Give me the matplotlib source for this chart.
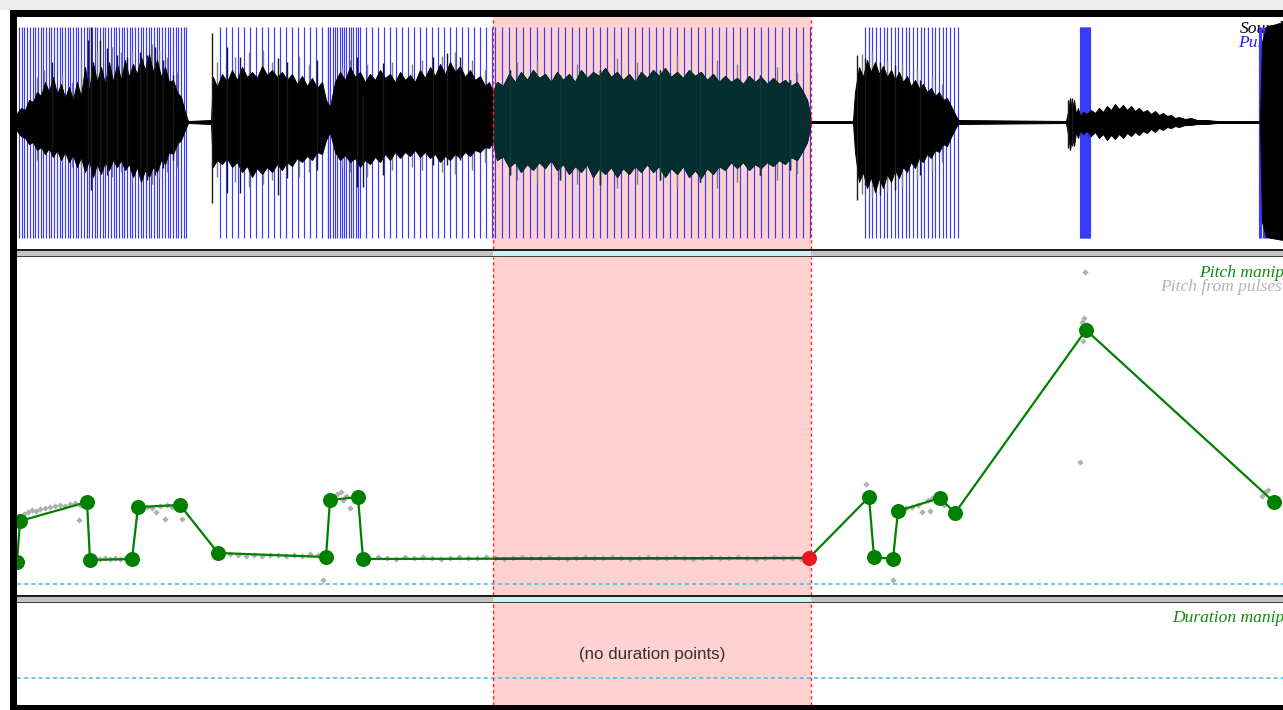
import numpy as np
import matplotlib
matplotlib.use("Agg")
import matplotlib.pyplot as plt
from matplotlib.patches import Rectangle

# ---------------- data (time in ms from window start) ----------------
sel_start, sel_end = 476, 794

# waveform envelope (amplitude, arbitrary units), read segment by segment
wave_t = [0, 4, 8, 12, 16, 20, 24, 28, 32, 36, 40, 44, 48, 52, 56, 60, 64, 68, 72, 76, 80, 84, 88, 92,
          96, 100, 104, 108, 112, 116, 120, 124, 128, 132, 136, 140, 144, 148, 152, 156, 160, 164, 168, 171,
          194, 196, 200, 205, 210, 215, 220, 225, 230, 235, 240, 245, 250, 255, 260, 265, 270, 275, 280,
          285, 290, 295, 300, 305, 309, 313, 318, 323, 328, 333, 338, 343, 348, 353, 358, 363, 368, 373,
          378, 383, 388, 393, 398, 403, 408, 413, 418, 423, 428, 433, 438, 443, 448, 453, 458, 463, 468, 472,
          476, 480, 486, 492, 498, 504, 510, 516, 522, 528, 534, 540, 546, 552, 558, 564, 570, 576, 582,
          588, 594, 600, 606, 612, 618, 624, 630, 636, 642, 648, 654, 660, 666, 672, 678, 684, 690, 696,
          702, 708, 714, 720, 726, 732, 738, 744, 750, 756, 762, 768, 774, 780, 786, 790, 793, 794,
          836, 838, 842, 846, 850, 854, 858, 862, 866, 870, 874, 878, 882, 886, 890, 894, 898, 902, 906,
          910, 914, 918, 922, 926, 930, 934, 938, 941,
          1049, 1051, 1053, 1055, 1057, 1059, 1061, 1063, 1066, 1070, 1074, 1078, 1082, 1086, 1090, 1094,
          1098, 1102, 1106, 1110, 1114, 1118, 1122, 1126, 1130, 1134, 1138, 1142, 1146, 1150, 1154, 1158,
          1162, 1168, 1174, 1180, 1190, 1200, 1208,
          1243, 1245, 1249, 1266]
wave_hi = [9, 14, 12, 22, 20, 30, 26, 40, 30, 45, 28, 38, 24, 35, 22, 40, 25, 55, 30, 60, 40, 55, 38, 60,
           40, 58, 42, 62, 45, 58, 48, 65, 52, 68, 50, 62, 45, 55, 40, 42, 30, 25, 10, 1,
           2, 45, 35, 48, 40, 52, 42, 55, 45, 50, 44, 56, 47, 52, 45, 50, 42, 48, 38,
           46, 36, 44, 34, 40, 22, 15, 40, 50, 42, 55, 45, 50, 40, 48, 42, 52, 44, 48,
           40, 50, 42, 47, 40, 52, 44, 55, 46, 58, 48, 60, 50, 56, 45, 52, 42, 46, 36, 40,
           30, 40, 36, 48, 40, 50, 42, 52, 44, 48, 40, 50, 42, 48, 40, 52, 44, 50, 46,
           54, 45, 50, 42, 48, 40, 50, 44, 52, 46, 54, 45, 50, 44, 52, 46, 50, 42, 48,
           40, 46, 40, 44, 38, 46, 40, 45, 38, 44, 38, 42, 36, 40, 30, 22, 7, 1,
           1, 30, 55, 45, 62, 50, 60, 48, 56, 45, 52, 42, 50, 40, 46, 36, 42, 34, 38,
           30, 34, 26, 30, 22, 24, 16, 8, 2,
           1, 10, 24, 12, 22, 8, 14, 6, 10, 8, 12, 9, 14, 10, 16, 12,
           18, 13, 17, 12, 16, 11, 14, 10, 12, 8, 11, 7, 9, 6, 7, 4,
           5, 3, 4, 2, 2, 1, 1,
           1, 80, 95, 100]
wave_lo = [-9, -14, -16, -22, -20, -28, -25, -32, -26, -35, -28, -38, -30, -40, -33, -45, -35, -50, -38, -55,
           -42, -52, -40, -48, -38, -45, -38, -48, -42, -55, -45, -60, -48, -55, -45, -50, -38, -42, -30, -32,
           -22, -18, -8, -1,
           -2, -45, -38, -42, -36, -45, -40, -50, -44, -55, -46, -52, -45, -50, -42, -48, -40, -44, -36,
           -40, -34, -38, -30, -32, -18, -10, -30, -38, -33, -40, -36, -45, -38, -42, -35, -40, -32, -38,
           -30, -36, -30, -34, -28, -35, -30, -36, -32, -40, -34, -38, -32, -36, -30, -34, -28, -30, -25, -26,
           -20, -38, -34, -45, -40, -50, -42, -48, -40, -46, -38, -48, -42, -52, -44, -50, -42, -55, -46,
           -52, -45, -55, -46, -52, -44, -50, -42, -50, -44, -55, -46, -52, -44, -55, -48, -56, -46, -52,
           -44, -48, -40, -46, -40, -48, -42, -46, -40, -44, -38, -42, -35, -38, -28, -20, -6, -1,
           -1, -30, -60, -50, -66, -55, -70, -56, -66, -52, -60, -48, -56, -45, -50, -40, -46, -36, -40,
           -32, -36, -28, -30, -22, -24, -15, -7, -2,
           -1, -12, -28, -15, -24, -10, -16, -8, -12, -9, -14, -10, -16, -12, -18, -13,
           -17, -12, -16, -11, -14, -10, -13, -9, -11, -7, -10, -6, -8, -5, -6, -4,
           -5, -3, -3, -2, -2, -1, -1,
           -1, -100, -115, -118]

# individual tall waveform spikes (dark)
spike_t = [35, 71, 74, 83, 90, 100, 110, 123, 130, 138, 146, 156,
           195, 210, 223, 261, 270, 300, 340, 346, 366, 416, 430, 443,
           493, 543, 583, 643, 683, 743, 773,
           840, 848, 863, 878, 903, 1051, 1055]
spike_hi = [60, 82, 95, 82, 74, 67, 65, 70, 67, 75, 62, 47,
            89, 75, 65, 64, 60, 62, 65, 27, 59, 65, 69, 65,
            52, 47, 52, 52, 50, 47, 42,
            67, 64, 60, 57, 42, 22, 24]
spike_lo = [-28, -38, -68, -48, -53, -38, -43, -48, -58, -53, -46, -38,
            -81, -71, -71, -73, -56, -48, -65, -65, -53, -43, -43, -38,
            -53, -58, -63, -58, -60, -53, -48,
            -78, -63, -73, -68, -53, -26, -24]

# lighter (grey) waveform spikes
gspike_t = [20, 27, 45, 55, 64, 80, 95, 104, 115, 135, 142, 150, 160,
            200, 218, 232, 246, 255, 282, 292, 325, 333, 350, 375, 395, 405, 425, 438, 455, 468,
            500, 520, 560, 600, 620, 660, 700, 720, 760, 780,
            845, 855, 870, 885, 900, 915, 925]
gspike_hi = [45, 52, 48, 40, 62, 70, 75, 70, 72, 78, 72, 65, 50,
             60, 65, 70, 72, 60, 66, 58, 55, 62, 58, 60, 58, 62, 66, 70, 62, 52,
             60, 62, 58, 64, 60, 66, 62, 58, 55, 50,
             68, 70, 62, 58, 52, 45, 38]
gspike_lo = [-38, -32, -40, -45, -50, -55, -55, -50, -60, -62, -55, -50, -45,
             -55, -60, -65, -62, -58, -55, -50, -45, -50, -55, -48, -45, -48, -50, -52, -48, -40,
             -58, -60, -62, -66, -62, -64, -66, -60, -58, -52,
             -72, -75, -70, -65, -58, -50, -40]

# glottal pulses: voiced intervals and their period (ms)
pulse_start = [2, 203, 311, 343, 478, 848, 1063, 1242]
pulse_end = [171, 311, 343, 476, 794, 941, 1073, 1266]
pulse_period = [2.7, 6.0, 2.3, 6.0, 7.0, 3.7, 0.7, 1.2]

# pitch manipulation tier (ms, Hz)
pitch_t = [0, 3, 70, 73, 115, 121, 163, 201, 309, 313, 341, 346, 792,
           852, 857, 876, 881, 923, 938, 1069, 1257]
pitch_hz = [66.5, 97.25, 111.5, 68, 68.75, 107.75, 109.25, 73.25, 70.25, 113, 115.25, 68.75, 69.5,
            115.25, 70.25, 68.75, 104.75, 114.5, 103.25, 240.5, 111.5]

# pitch from pulses (ms, Hz)
pp_t = [7, 11, 15, 19, 23, 28, 33, 38, 43, 48, 53, 58, 63, 62, 67,
        78, 83, 88, 93, 98, 103, 108, 113,
        125, 130, 135, 139, 143, 148, 150, 155, 159, 165,
        205, 213, 221, 229, 237, 245, 253, 261, 269, 277, 285, 293, 301, 306,
        320, 324, 326, 333, 329,
        352, 361, 370, 379, 388, 397, 406,
        415, 424, 433, 442, 451, 460, 469,
        478, 487, 496, 505, 514, 523, 532,
        541, 550, 559, 568, 577, 586, 595,
        604, 613, 622, 631, 640, 649, 658,
        667, 676, 685, 694, 703, 712, 721,
        730, 739, 748, 757, 766, 775, 784,
        849, 876, 883, 889, 895, 901, 905, 911, 915, 919, 927, 913,
        1063, 1068, 1065, 1067, 1070, 1066, 1245, 1248, 1251]
pp_hz = [102.5, 104, 105.5, 104.75, 106.25, 107, 107.75, 108.5, 109.25, 108.5, 110, 110.75, 109.25, 98, 112.25,
         69.5, 69, 69.5, 69, 69.5, 69, 69.5, 69,
         108.5, 107.75, 107, 104, 108.5, 98.75, 109.25, 107.75, 110, 98.75,
         71.75, 72.5, 71.75, 71, 71.75, 71, 71.75, 71.75, 71, 71.75, 71, 72.5, 71.75, 53,
         117.5, 119, 113, 107, 116,
         69.5, 70.25, 69.5, 68.75, 70.25, 69.5, 70.25,
         69.5, 68.75, 69.5, 70.25, 69.5, 69.5, 70.25,
         69.5, 68.75, 69.5, 70.25, 69.5, 69.5, 70.25,
         69.5, 68.75, 69.5, 70.25, 69.5, 69.5, 70.25,
         69.5, 68.75, 69.5, 70.25, 69.5, 69.5, 70.25,
         69.5, 68.75, 69.5, 70.25, 69.5, 69.5, 70.25,
         69.5, 68.75, 69.5, 70.25, 69.5, 69.5, 68.75,
         125, 53, 105.5, 107, 107.75, 109.25, 104, 113, 114.5, 111.5, 109.25, 104.75,
         141.5, 284, 246.5, 249.5, 244.25, 232.25, 116, 119, 120.5]

pitch_floor = 50      # dashed reference line in pitch panel
duration_ref = 1.0    # dashed reference line in duration panel

# ---------------- figure ----------------
W, H = 1283, 710
fig = plt.figure(figsize=(W / 100, H / 100), dpi=100)
fig.patch.set_facecolor("white")


def rect(x0, y0, x1, y1):
    return [x0 / W, 1 - y1 / H, (x1 - x0) / W, (y1 - y0) / H]


def fig_box(x0, y0, x1, y1, color, z=5):
    fig.add_artist(Rectangle((x0 / W, 1 - y1 / H), (x1 - x0) / W, (y1 - y0) / H,
                             transform=fig.transFigure, facecolor=color, edgecolor="none", zorder=z))


ax_s = fig.add_axes(rect(17, 17, W, 249))
ax_p = fig.add_axes(rect(17, 257, W, 595))
ax_d = fig.add_axes(rect(17, 603, W, 705))
for ax in (ax_s, ax_p, ax_d):
    ax.set_axis_off()
    ax.set_xlim(0, 1266)
ax_s.set_ylim(-127, 105)
ax_p.set_ylim(41.75, 295.25)
ax_d.set_ylim(0.73, 1.75)

pink = "#ffd1d1"
red_dash = dict(color="#ff2020", lw=1.0, linestyle=(0, (2.2, 2.2)), zorder=6)
serif = dict(family="Liberation Serif", style="italic", fontsize=12.6)

# ---- sound panel ----
ax_s.axvspan(sel_start, sel_end, color=pink, lw=0, zorder=0)
pulses = np.concatenate([np.arange(s, e + 1e-9, p) for s, e, p in zip(pulse_start, pulse_end, pulse_period)])
ax_s.vlines(pulses, -116, 95, colors="#3a3aff", lw=0.85, zorder=1)
ax_s.vlines(gspike_t, gspike_lo, gspike_hi, colors="#808080", lw=1.0, zorder=1.5)
ax_s.fill_between(wave_t, wave_lo, wave_hi, facecolor="black", edgecolor="black", lw=0.7, zorder=2)
ax_s.vlines(spike_t, spike_lo, spike_hi, colors="#1a1a1a", lw=1.0, zorder=2)
clip_s = Rectangle((sel_start, -200), sel_end - sel_start, 400, transform=ax_s.transData)
teal = ax_s.fill_between(wave_t, wave_lo, wave_hi, facecolor="#052e2e", edgecolor="#052e2e", lw=0.7, zorder=3)
teal.set_clip_path(clip_s)
sp2 = ax_s.vlines(spike_t, spike_lo, spike_hi, colors="#0e3a3a", lw=1.0, zorder=3)
sp2.set_clip_path(clip_s)
for x in (sel_start, sel_end):
    ax_s.axvline(x, **red_dash)

ax_s.text(1240 / W, 1 - 33 / H, "Sound", transform=fig.transFigure, color="black", zorder=0.5, **serif)
ax_s.text(1238 / W, 1 - 47 / H, "Pulses", transform=fig.transFigure, color="#2020ff", zorder=0.5, **serif)

# ---- pitch panel ----
ax_p.axvspan(sel_start, sel_end, color=pink, lw=0, zorder=0)
ax_p.axhline(pitch_floor, color="#3cbff0", lw=1.1, linestyle=(0, (2.7, 2.0)), zorder=1)
for x in (sel_start, sel_end):
    ax_p.axvline(x, **red_dash)
ax_p.plot(pp_t, pp_hz, linestyle="none", marker="D", ms=3.2, mew=0, color="#b0b0b0", zorder=2)
ax_p.plot(pitch_t, pitch_hz, color="#008000", lw=1.6, zorder=3)
dark = ax_p.plot(pitch_t, pitch_hz, color="#1d4d35", lw=1.6, zorder=3.5)[0]
dark.set_clip_path(Rectangle((sel_start, 0), sel_end - sel_start, 400, transform=ax_p.transData))
pt = np.array(pitch_t)
ph = np.array(pitch_hz)
insel = (pt >= sel_start) & (pt <= sel_end)
ax_p.plot(pt[~insel], ph[~insel], linestyle="none", marker="o", ms=10.8, mew=0, color="#008000", zorder=4)
ax_p.plot(pt[insel], ph[insel], linestyle="none", marker="o", ms=10.8, mew=0, color="#e8161c", zorder=4)

fig.text(1199 / W, 1 - 277 / H, "Pitch manip", color="#118a11", **serif)
fig.text(1160 / W, 1 - 291 / H, "Pitch from pulses", color="#b4b4b4", **serif)

# ---- duration panel ----
ax_d.axvspan(sel_start, sel_end, color=pink, lw=0, zorder=0)
ax_d.axhline(duration_ref, color="#3cbff0", lw=1.1, linestyle=(0, (2.7, 2.0)), zorder=1)
for x in (sel_start, sel_end):
    ax_d.axvline(x, **red_dash)
ax_d.text((sel_start + sel_end) / 2, 1.23, "(no duration points)", ha="center", va="center",
          family="Liberation Sans", fontsize=12.2, color="#333333")
fig.text(1172 / W, 1 - 622 / H, "Duration manip", color="#118a11", **serif)

# ---- separators and frame ----
for (y0, y1) in ((249, 257), (595, 603)):
    fig_box(17, y0, W, y1, "#c4c4c4")
    fig_box(17 + sel_start, y0 + 1.5, 17 + sel_end, y1 - 1.5, "#cdf1f1")
    fig_box(17, y0, W, y0 + 1.5, "#202020")
    fig_box(17, y1 - 1.5, W, y1, "#404040")

fig_box(0, 0, W, 10, "#ececec")
fig_box(10, 10, W, 17, "black")
fig_box(10, 10, 17, H, "black")
fig_box(10, 705, W, H, "black")

fig.savefig("out.png", dpi=100)
